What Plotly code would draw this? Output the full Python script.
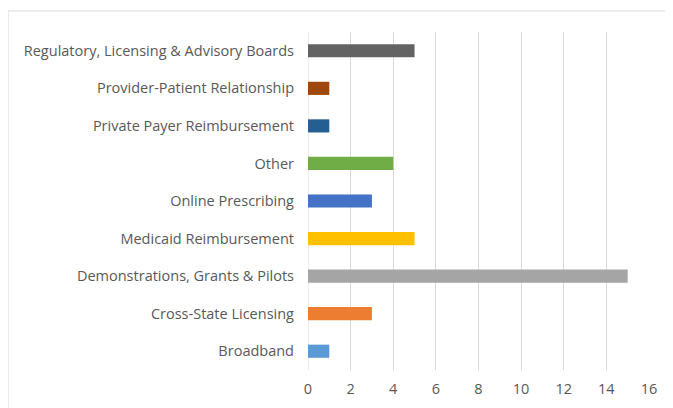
import plotly.graph_objects as go

categories = ["Broadband", "Cross-State Licensing", "Demonstrations, Grants & Pilots",
              "Medicaid Reimbursement", "Online Prescribing", "Other",
              "Private Payer Reimbursement", "Provider-Patient Relationship",
              "Regulatory, Licensing & Advisory Boards"]
values = [1, 3, 15, 5, 3, 4, 1, 1, 5]
colors = ["#5B9BD5", "#ED7D31", "#A5A5A5", "#FFC000", "#4472C4", "#70AD47",
          "#255E91", "#9E480E", "#636363"]
x_ticks = [0, 2, 4, 6, 8, 10, 12, 14, 16]

OFF = 8  # page body margin offset
W, H = 673 - OFF, 408 - OFF
L, T = 308 - OFF, 32 - OFF
pw, ph = 341, 338
R, B = W - L - pw, H - T - ph

fig = go.Figure(go.Bar(
    y=categories, x=values, orientation="h",
    marker=dict(color=colors, line=dict(width=0)),
    width=0.35,
))

fig.update_layout(
    width=W, height=H,
    margin=dict(l=L, r=R, t=T, b=B, autoexpand=False),
    paper_bgcolor="white", plot_bgcolor="white",
    font=dict(family="Open Sans, Noto Sans, sans-serif", size=14.5, color="#595959"),
    showlegend=False,
    xaxis=dict(range=[0, 16], tickvals=x_ticks, showgrid=True, gridcolor="#D9D9D9",
               gridwidth=1, zeroline=False, showline=False, ticks="",
               ticklabelstandoff=8,
               tickfont=dict(size=14.5, color="#595959"), fixedrange=True),
    yaxis=dict(categoryorder="array", categoryarray=categories, showgrid=False,
               zeroline=False, showline=False, ticks="", ticklabelstandoff=13,
               tickfont=dict(size=14.5, color="#595959"), range=[-0.5, 8.5]),
    shapes=[
        dict(type="line", xref="x", yref="paper", x0=0, x1=0, y0=0, y1=1,
             line=dict(color="#D9D9D9", width=1), layer="below"),
        dict(type="rect", xref="paper", yref="paper",
             x0=(8 - 308) / pw, x1=(673 + 10 - 308) / pw,
             y0=-(408 - 370 + 10) / ph, y1=1 + (32 - 11) / ph,
             line=dict(color="#D9D9D9", width=1), fillcolor="rgba(0,0,0,0)"),
    ],
)

fig.write_html("out.html")
